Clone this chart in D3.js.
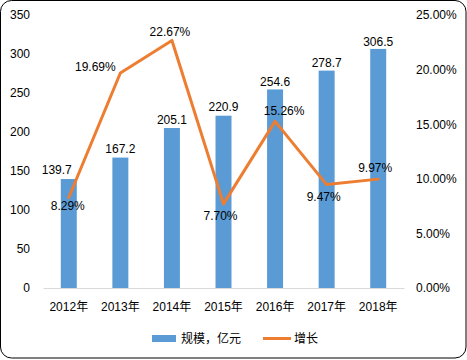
<!DOCTYPE html>
<html><head><meta charset="utf-8">
<script src="https://cdn.jsdelivr.net/npm/d3@7"></script>
<style>body{margin:0;background:#fff}svg{display:block}text{font-family:"Liberation Sans",Arial,"Noto Sans CJK SC",sans-serif;font-size:12px;fill:#000}</style>
</head><body><svg id="c" width="467" height="360"></svg>
<script>
const years = ["2012年","2013年","2014年","2015年","2016年","2017年","2018年"];
const scale = [139.7,167.2,205.1,220.9,254.6,278.7,306.5];
const growth = [8.29,19.69,22.67,7.70,15.26,9.47,9.97];
const leftTicks = [0,50,100,150,200,250,300,350];
const rightTicks = [0,5,10,15,20,25];
const seriesNames = ["规模，亿元","增长"];
// label placement (style): [dx, dy] from point
const growthLabelOffset = [[-1,9],[-25,-6],[-2,-8],[-3,12],[9,-10],[-3,12],[-3,-11]];
const scaleLabelOffset = [[-12,-9],[0,-9],[0,-8],[0,-9],[0,-7],[0,-8],[0,-7]];

const svg = d3.select("#c");
const W=467,H=360;
svg.append("rect").attr("x",0.5).attr("y",0.5).attr("width",W-1.5).attr("height",H-2.5)
  .attr("rx",11).attr("fill","#fff").attr("stroke","#000").attr("stroke-width",1);

const x = d3.scaleBand().domain(years).range([43,404]).padding(0);
const yL = d3.scaleLinear().domain([0,350]).range([288,15]);
const yR = d3.scaleLinear().domain([0,25]).range([288,15]);
const bw = x.bandwidth()*0.31;
const cx = d => x(d)+x.bandwidth()/2;

// bars
svg.append("g").selectAll("rect").data(scale).join("rect")
  .attr("x",(d,i)=>cx(years[i])-bw/2).attr("width",bw)
  .attr("y",d=>yL(d)).attr("height",d=>yL(0)-yL(d)).attr("fill","#5B9BD5");

// x axis
const xa = svg.append("g").attr("transform","translate(0,288)").call(d3.axisBottom(x).tickSize(0).tickPadding(14));
xa.select(".domain").attr("stroke","#d9d9d9");
xa.selectAll("text").style("font-size","12px").attr("fill","#000");

// left axis
const la = svg.append("g").attr("transform","translate(30,0)").call(d3.axisLeft(yL).tickValues(leftTicks).tickSize(0).tickPadding(0));
la.select(".domain").remove();
la.selectAll("text").style("font-size","12px").attr("fill","#000");

// right axis
const ra = svg.append("g").attr("transform","translate(416,0)").call(d3.axisRight(yR).tickValues(rightTicks).tickSize(0).tickPadding(0).tickFormat(d=>d3.format(".2f")(d)+"%"));
ra.select(".domain").remove();
ra.selectAll("text").style("font-size","12px").attr("fill","#000");

// line
const line = d3.line().x((d,i)=>cx(years[i])).y(d=>yR(d));
svg.append("path").datum(growth).attr("d",line).attr("fill","none")
  .attr("stroke","#ED7D31").attr("stroke-width",3).attr("stroke-linejoin","round").attr("stroke-linecap","round");

// bar labels
svg.append("g").selectAll("text").data(scale).join("text")
  .attr("x",(d,i)=>cx(years[i])+scaleLabelOffset[i][0]).attr("y",(d,i)=>yL(d)+scaleLabelOffset[i][1])
  .attr("text-anchor","middle").attr("dominant-baseline","central").text(d=>d.toFixed(1));

// growth labels
svg.append("g").selectAll("text").data(growth).join("text")
  .attr("x",(d,i)=>cx(years[i])+growthLabelOffset[i][0]).attr("y",(d,i)=>yR(d)+growthLabelOffset[i][1])
  .attr("text-anchor","middle").attr("dominant-baseline","central").text(d=>d.toFixed(2)+"%");

// legend
const lg = svg.append("g");
lg.append("rect").attr("x",152).attr("y",335).attr("width",24).attr("height",7).attr("fill","#5B9BD5");
lg.append("text").attr("x",181).attr("y",338.5).attr("dominant-baseline","central").text(seriesNames[0]);
lg.append("line").attr("x1",263).attr("x2",291).attr("y1",338.5).attr("y2",338.5).attr("stroke","#ED7D31").attr("stroke-width",3);
lg.append("text").attr("x",294).attr("y",338.5).attr("dominant-baseline","central").text(seriesNames[1]);
</script></body></html>
